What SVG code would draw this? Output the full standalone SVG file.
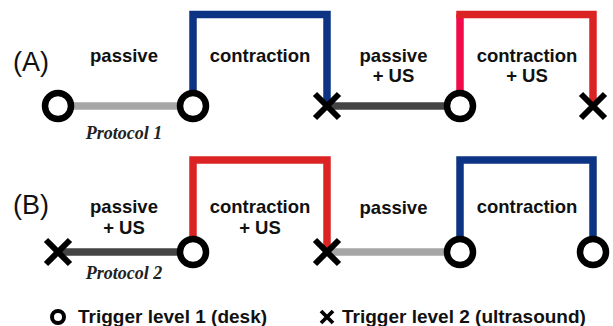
<svg xmlns="http://www.w3.org/2000/svg" width="613" height="326" viewBox="0 0 613 326">
<style>
.lbl{font-family:"Liberation Sans",Arial,sans-serif;font-weight:bold;font-size:18.5px;fill:#111;text-anchor:middle}
.tag{font-family:"Liberation Sans",Arial,sans-serif;font-size:27px;fill:#111}
.proto{font-family:"Liberation Serif","Times New Roman",serif;font-weight:bold;font-style:italic;font-size:18px;fill:#222;text-anchor:middle}
.leg{font-family:"Liberation Sans",Arial,sans-serif;font-weight:bold;font-size:19px;fill:#111}
.ring{fill:#fff;stroke:#000;stroke-width:6.5}
.x{stroke:#000;stroke-width:6;fill:none}
.seg{fill:none;stroke-width:7.5;stroke-linejoin:miter;stroke-linecap:butt}
</style>
<defs>
<g id="cross"><path class="x" d="M-12,-12 L12,12 M-12,12 L12,-12"/></g>
</defs>
<g id="connectors">
<line class="seg" x1="58" y1="106" x2="193" y2="106" stroke="#a6a6a6" stroke-width="7"/>
<path class="seg" d="M193,93 V14.5 H327 V106" stroke="#0d3484"/>
<line class="seg" x1="327" y1="106" x2="460" y2="106" stroke="#444" stroke-width="7"/>
<path class="seg" d="M460,93 V14.5" stroke="#f20a4a"/>
<path class="seg" d="M456.25,14.5 H593 V106" stroke="#dc2323"/>
<line class="seg" x1="58" y1="252" x2="193" y2="252" stroke="#444" stroke-width="7"/>
<path class="seg" d="M193,239 V160 H327 V252" stroke="#dc2323"/>
<line class="seg" x1="327" y1="252" x2="460" y2="252" stroke="#a6a6a6" stroke-width="7"/>
<path class="seg" d="M460,239 V160 H593 V239" stroke="#0d3484"/>
</g>
<g id="labelA"><text class="tag" x="13" y="71">(A)</text></g>
<g id="labelB"><text class="tag" x="13" y="214">(B)</text></g>
<g id="nodeA1"><circle class="ring" cx="58" cy="106" r="13"/></g>
<g id="nodeA2"><circle class="ring" cx="193" cy="106" r="13"/></g>
<g id="nodeA3"><use href="#cross" x="327" y="106"/></g>
<g id="nodeA4"><circle class="ring" cx="460" cy="106" r="13"/></g>
<g id="nodeA5"><use href="#cross" x="593" y="106"/></g>
<g id="nodeB1"><use href="#cross" x="58" y="252"/></g>
<g id="nodeB2"><circle class="ring" cx="193" cy="252" r="13"/></g>
<g id="nodeB3"><use href="#cross" x="327" y="252"/></g>
<g id="nodeB4"><circle class="ring" cx="460" cy="252" r="13"/></g>
<g id="nodeB5"><circle class="ring" cx="593" cy="252" r="13"/></g>
<g id="textsA">
<text class="lbl" x="124" y="62">passive</text>
<text class="lbl" x="260" y="62">contraction</text>
<text class="lbl" x="393.5" y="62">passive</text>
<text class="lbl" x="393.5" y="82">+ US</text>
<text class="lbl" x="527" y="62">contraction</text>
<text class="lbl" x="527" y="82">+ US</text>
<text class="proto" x="124" y="139">Protocol 1</text>
</g>
<g id="textsB">
<text class="lbl" x="124" y="213">passive</text>
<text class="lbl" x="124" y="234">+ US</text>
<text class="lbl" x="260" y="213">contraction</text>
<text class="lbl" x="260" y="234">+ US</text>
<text class="lbl" x="393.5" y="214">passive</text>
<text class="lbl" x="527" y="213">contraction</text>
<text class="proto" x="124" y="279">Protocol 2</text>
</g>
<g id="legend">
<circle cx="58" cy="317" r="6" fill="#fff" stroke="#000" stroke-width="4"/>
<text class="leg" x="78" y="323">Trigger level 1 (desk)</text>
<path d="M321,311 L333,323 M321,323 L333,311" stroke="#000" stroke-width="3.8" fill="none"/>
<text class="leg" x="342" y="323">Trigger level 2 (ultrasound)</text>
</g>
</svg>
